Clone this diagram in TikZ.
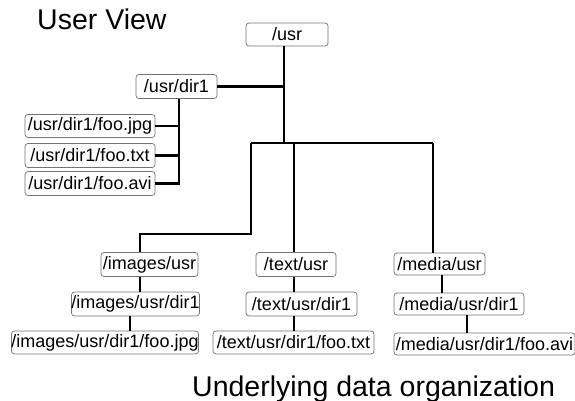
\documentclass[tikz,border=0pt]{standalone}
\usepackage{fontspec}
\setmainfont{Liberation Sans}
\begin{document}
\begin{tikzpicture}[x=1pt,y=-1pt,
  box/.style={draw=black!55, line width=0.7pt, rounded corners=3pt, fill=white,
    inner sep=0pt, minimum height=23pt, font=\fontsize{18}{20}\selectfont},
  link/.style={line width=2.5pt, black},
  title/.style={anchor=base west, inner sep=0pt, font=\fontsize{28.5}{32}\selectfont}]
\useasboundingbox (0,0) rectangle (575,401);
% nodes
\node[box, minimum width=82pt] (usr) at (287,34.5) {/usr};
\node[box, minimum width=81pt, minimum height=24pt] (dir1) at (176.5,86.5) {/usr/dir1};
\node[box, minimum width=130pt] (fjpg) at (90,126) {/usr/dir1/foo.jpg};
\node[box, minimum width=130pt, minimum height=24pt] (ftxt) at (90,155.5) {/usr/dir1/foo.txt};
\node[box, minimum width=130pt, minimum height=24pt] (favi) at (90,183.5) {/usr/dir1/foo.avi};
\node[box, minimum width=97pt, minimum height=24pt] (iusr) at (149.5,264.5) {/images/usr};
\node[box, minimum width=125pt, minimum height=24pt] (idir) at (135.5,304) {/images/usr/dir1};
\node[box, minimum width=186pt] (ijpg) at (105,342.5) {/images/usr/dir1/foo.jpg};
\node[box, minimum width=80pt, minimum height=24pt] (tusr) at (296,264.5) {/text/usr};
\node[box, minimum width=111pt, minimum height=24pt] (tdir) at (301.5,304) {/text/usr/dir1};
\node[box, minimum width=161pt] (ttxt) at (293.5,342.5) {/text/usr/dir1/foo.txt};
\node[box, minimum width=91pt, minimum height=22pt] (musr) at (439.5,264) {/media/usr};
\node[box, minimum width=130pt, minimum height=22pt] (mdir) at (459,304) {/media/usr/dir1};
\node[box, minimum width=181pt, minimum height=22pt] (mavi) at (484.5,344) {/media/usr/dir1/foo.avi};
% titles
\node[title] (uv) at (37,30) {User View};
\node[title] (udo) at (192,396) {Underlying data organization};
% junction coordinates
\coordinate (j0) at (284,143);
\coordinate (jL) at (251,143);
\coordinate (jM) at (294,143);
\coordinate (jR) at (433,143);
\coordinate (k1) at (251,234);
\coordinate (k2) at (140,234);
\coordinate (jd) at (179,185);
\coordinate (xi) at (130,320);
\coordinate (xm1) at (442,285);
\coordinate (xm2) at (467,323);
% links
\draw[link] (usr.south -| j0) -- (j0);
\draw[link] (dir1.east) -- (dir1.east -| j0);
\draw[link] (jL) -- (jR);
\draw[link] (jL) -- (k1) -- (k2) -- (iusr.north -| k2);
\draw[link] (jM) -- (tusr.north -| jM);
\draw[link] (tusr.south -| jM) -- (tdir.north -| jM);
\draw[link] (tdir.south -| jM) -- (ttxt.north -| jM);
\draw[link] (jR) -- (musr.north -| jR);
\draw[link] (dir1.south -| jd) -- (jd);
\draw[link] (fjpg.east) -- (fjpg.east -| jd);
\draw[link] (ftxt.east) -- (ftxt.east -| jd);
\draw[link] (favi.east) -- (favi.east -| jd);
\draw[link] (iusr.south -| k2) -- (idir.north -| k2);
\draw[link] (idir.south -| xi) -- (ijpg.north -| xi);
\draw[link] (musr.south -| xm1) -- (mdir.north -| xm1);
\draw[link] (mdir.south -| xm2) -- (mavi.north -| xm2);
\end{tikzpicture}
\end{document}
